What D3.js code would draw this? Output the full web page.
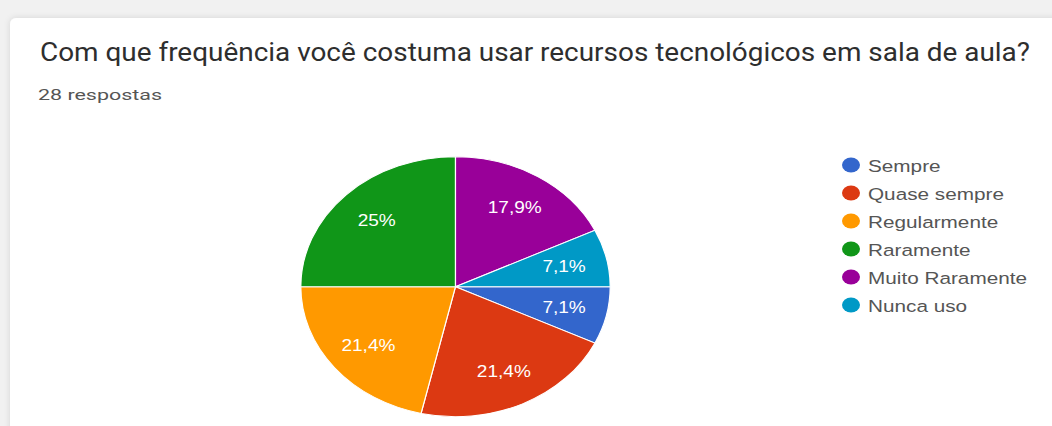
<!DOCTYPE html>
<html>
<head>
<meta charset="utf-8">
<script src="https://cdn.jsdelivr.net/npm/d3@7"></script>
<style>
  html, body { margin: 0; padding: 0; background: #f1f1f1; }
  svg { display: block; }
</style>
</head>
<body>
<svg id="chart" width="1052" height="426"></svg>
<script>
// Survey answers (28 responses)
const categories = ["Sempre", "Quase sempre", "Regularmente", "Raramente", "Muito Raramente", "Nunca uso"];
const counts = [2, 6, 6, 7, 5, 2];
const percentLabels = ["7,1%", "21,4%", "21,4%", "25%", "17,9%", "7,1%"];
const colors = ["#3366cc", "#dc3912", "#ff9900", "#109618", "#990099", "#0099c6"];
const titleText = "Com que frequência você costuma usar recursos tecnológicos em sala de aula?";
const subtitleText = "28 respostas";

const svg = d3.select("#chart");
const W = 1052, H = 426;
const stretch = 1.19; // horizontal stretch of the rendered card

// shadow for the card
const defs = svg.append("defs");
const f = defs.append("filter").attr("id", "shadow").attr("x", "-5%").attr("y", "-5%").attr("width", "110%").attr("height", "110%");
f.append("feDropShadow").attr("dx", 0).attr("dy", 0).attr("stdDeviation", 3).attr("flood-color", "#000").attr("flood-opacity", 0.12);

svg.append("rect").attr("width", W).attr("height", H).attr("fill", "#f1f1f1");
svg.append("rect").attr("x", 10).attr("y", 18).attr("width", W + 20).attr("height", H + 20)
  .attr("rx", 6).attr("fill", "#fff").attr("filter", "url(#shadow)");

// title + response count
svg.append("text").attr("x", 40).attr("y", 61)
  .attr("font-family", "Roboto, 'Open Sans', sans-serif").attr("font-size", 25)
  .attr("fill", "#2e2e2e")
  .attr("textLength", 990).attr("lengthAdjust", "spacingAndGlyphs")
  .text(titleText);

svg.append("text").attr("x", 38).attr("y", 100)
  .attr("font-family", "Roboto, 'Open Sans', sans-serif").attr("font-size", 15)
  .attr("fill", "#555")
  .attr("textLength", 124).attr("lengthAdjust", "spacingAndGlyphs")
  .text(subtitleText);

// pie, starting at 3 o'clock and running clockwise
const R = 130;
const pie = d3.pie().sort(null).value(d => d)
  .startAngle(Math.PI / 2).endAngle(Math.PI / 2 + 2 * Math.PI);
const arcs = pie(counts);
const arc = d3.arc().innerRadius(0).outerRadius(R);
const labelArc = d3.arc().innerRadius(R * 0.72).outerRadius(R * 0.72);

const g = svg.append("g").attr("transform", `translate(455.5,286.7) scale(${stretch},1)`);
g.selectAll("path.slice").data(arcs).join("path")
  .attr("class", "slice")
  .attr("d", arc)
  .attr("fill", (d, i) => colors[i])
  .attr("stroke", "#fff").attr("stroke-width", 1);

g.selectAll("text.pct").data(arcs).join("text")
  .attr("class", "pct")
  .attr("transform", d => `translate(${labelArc.centroid(d)})`)
  .attr("text-anchor", "middle").attr("dy", "0.36em")
  .attr("font-family", "Arial, 'Liberation Sans', sans-serif").attr("font-size", 16)
  .attr("fill", "#fff")
  .text((d, i) => percentLabels[i]);

// legend
const legend = svg.append("g").attr("transform", "translate(851,165)");
const rows = legend.selectAll("g").data(categories).join("g")
  .attr("transform", (d, i) => `translate(0,${i * 28})`);
rows.append("ellipse").attr("rx", 9).attr("ry", 7.5)
  .attr("fill", (d, i) => colors[i]);
rows.append("text").attr("transform", "translate(17,7) scale(1.22,1)")
  .attr("font-family", "Arial, 'Liberation Sans', sans-serif").attr("font-size", 17)
  .attr("fill", "#555")
  .text(d => d);
</script>
</body>
</html>
